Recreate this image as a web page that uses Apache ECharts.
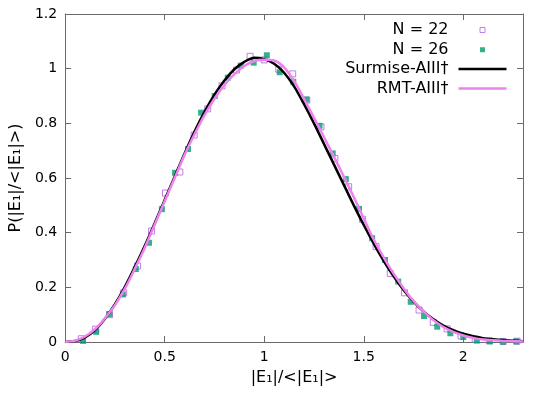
<!DOCTYPE html>
<html><head><meta charset="utf-8">
<script src="https://cdn.jsdelivr.net/npm/echarts@6/dist/echarts.min.js"></script>
<style>html,body{margin:0;padding:0;background:#fff}#c{width:545px;height:400px}</style>
</head><body><div id="c"></div>
<script>
const n22X = [0.081,0.153,0.223,0.294,0.363,0.434,0.504,0.576,0.648,0.716,0.788,0.861,0.929,1.0,1.073,1.143,1.214,1.285,1.355,1.424,1.494,1.562,1.633,1.705,1.778,1.849,1.919,1.989,2.06,2.13,2.2,2.27];
const n22Y = [0.012,0.047,0.100,0.180,0.278,0.406,0.545,0.622,0.757,0.853,0.937,0.995,1.045,1.032,0.998,0.981,0.885,0.787,0.671,0.568,0.449,0.349,0.251,0.180,0.117,0.072,0.048,0.022,0.010,0.005,0.002,0.003];
const n26X = [0.090,0.156,0.222,0.29,0.355,0.421,0.486,0.552,0.617,0.683,0.751,0.817,0.882,0.947,1.013,1.078,1.146,1.212,1.278,1.344,1.41,1.476,1.542,1.607,1.673,1.736,1.803,1.869,1.935,2.0,2.068,2.134,2.2,2.266];
const n26Y = [0.004,0.037,0.102,0.174,0.267,0.363,0.486,0.619,0.706,0.839,0.900,0.967,1.011,1.022,1.049,0.987,0.952,0.887,0.791,0.690,0.596,0.487,0.380,0.300,0.221,0.147,0.095,0.056,0.032,0.018,0.005,0.002,0.001,0.002];
const curveX = [0,0.05,0.1,0.15,0.2,0.25,0.3,0.35,0.4,0.45,0.5,0.55,0.6,0.65,0.7,0.75,0.8,0.85,0.9,0.95,1.0,1.05,1.1,1.15,1.2,1.25,1.3,1.35,1.4,1.45,1.5,1.55,1.6,1.65,1.7,1.75,1.8,1.85,1.9,1.95,2.0,2.05,2.1,2.15,2.2,2.25,2.3];
const surmiseY = [0,0.004,0.017,0.044,0.085,0.138,0.202,0.275,0.352,0.435,0.52,0.605,0.69,0.77,0.842,0.905,0.957,0.998,1.025,1.04,1.035,1.018,0.985,0.935,0.87,0.80,0.725,0.65,0.575,0.50,0.428,0.36,0.297,0.24,0.19,0.148,0.112,0.083,0.06,0.043,0.03,0.021,0.014,0.010,0.007,0.005,0.003];
const rmtY = [0,0.005,0.02,0.047,0.087,0.135,0.195,0.268,0.345,0.43,0.515,0.60,0.685,0.76,0.83,0.89,0.94,0.98,1.01,1.028,1.033,1.03,1.005,0.955,0.89,0.82,0.75,0.678,0.605,0.53,0.452,0.375,0.31,0.25,0.197,0.15,0.112,0.08,0.055,0.037,0.024,0.015,0.009,0.006,0.004,0.003,0.002];
const xTicks = [0,0.5,1,1.5,2];
const yTicks = [0,0.2,0.4,0.6,0.8,1,1.2];

const zip = (a,b) => a.map((v,i)=>[v,b[i]]);
const FONT = 'DejaVu Sans';
const axCol = '#6a6a6a';
const violet = '#b15fe6', green = '#009e73', magenta = '#ee82ee';
const lineIcon = 'path://M0,0M0,7M5,2.25L53,2.25L53,4.75L5,4.75Z';
const boxIcon = 'path://M0,0M53,7M26.5,1L31.5,1L31.5,6L26.5,6Z';
const fillIcon = 'path://M0,0M53,7M26.5,1.25L31.5,1.25L31.5,6.25L26.5,6.25Z';
const chart = echarts.init(document.getElementById('c'));
const baseX = {type:'value', min:0, max:2.3, interval:0.5, splitLine:{show:false},
  axisLine:{onZero:false, lineStyle:{color:axCol,width:1}},
  axisTick:{inside:true, length:6, lineStyle:{color:axCol}}};
const baseY = {type:'value', min:0, max:1.2, interval:0.2, splitLine:{show:false},
  axisLine:{onZero:false, lineStyle:{color:axCol,width:1}},
  axisTick:{inside:true, length:6, lineStyle:{color:axCol}}};
chart.setOption({
  animation:false,
  textStyle:{fontFamily:FONT},
  grid:{left:61,right:22,top:14,bottom:58},
  legend:{orient:'vertical', align:'right', right:33, top:17, itemGap:3.5,
    itemWidth:53, itemHeight:7, symbolKeepAspect:true,
    textStyle:{fontFamily:FONT, fontSize:16, color:'#000'},
    data:[
      {name:'N = 22', icon:boxIcon, itemStyle:{color:'rgba(0,0,0,0)', borderColor:violet, borderWidth:1}},
      {name:'N = 26', icon:fillIcon, itemStyle:{color:green, borderWidth:0}},
      {name:'Surmise-AIII\u2020', icon:lineIcon, itemStyle:{color:'#000', borderWidth:0}},
      {name:'RMT-AIII\u2020', icon:lineIcon, itemStyle:{color:magenta, borderWidth:0}}
    ]},
  xAxis:[
    Object.assign({}, baseX, {position:'bottom', name:'|E\u2081|/<|E\u2081|>', nameLocation:'middle', nameGap:28,
      nameTextStyle:{fontFamily:FONT,fontSize:16,color:'#000'},
      axisLabel:{showMaxLabel:false, margin:8, fontFamily:FONT, fontSize:14, color:'#000'}}),
    Object.assign({}, baseX, {position:'top', axisLabel:{show:false}})
  ],
  yAxis:[
    Object.assign({}, baseY, {position:'left', name:'P(|E\u2081|/<|E\u2081|>)', nameLocation:'middle', nameGap:41,
      nameTextStyle:{fontFamily:FONT,fontSize:16,color:'#000'},
      axisLabel:{margin:8, fontFamily:FONT, fontSize:14, color:'#000'}}),
    Object.assign({}, baseY, {position:'right', axisLabel:{show:false}})
  ],
  series:[
    {name:'N = 22', type:'scatter', data:zip(n22X,n22Y), symbol:'rect', symbolSize:6,
      itemStyle:{color:'rgba(0,0,0,0)', borderColor:violet, borderWidth:1}},
    {name:'N = 26', type:'scatter', data:zip(n26X,n26Y), symbol:'rect', symbolSize:6,
      itemStyle:{color:green}},
    {name:'Surmise-AIII\u2020', type:'line', data:zip(curveX,surmiseY), symbol:'none', smooth:0.3,
      lineStyle:{color:'#000', width:2.5}, itemStyle:{color:'#000'}},
    {name:'RMT-AIII\u2020', type:'line', data:zip(curveX,rmtY), symbol:'none', smooth:0.3,
      lineStyle:{color:magenta, width:2.5}, itemStyle:{color:magenta}}
  ]
});
</script></body></html>
